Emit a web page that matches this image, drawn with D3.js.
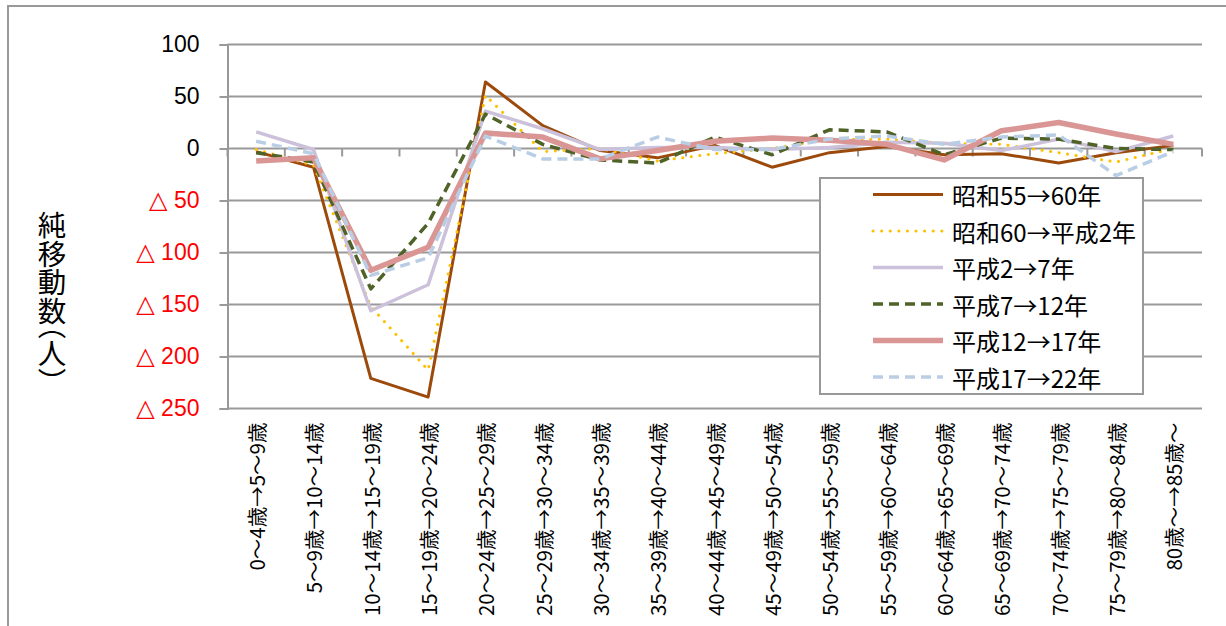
<!DOCTYPE html>
<html><head><meta charset="utf-8">
<script src="https://cdn.jsdelivr.net/npm/d3@7"></script>
<style>
body{margin:0;background:#fff;}
svg{display:block;font-family:"Noto Sans CJK JP","Noto Sans",sans-serif;}
</style></head>
<body>
<svg id="c" width="1226" height="626"></svg>
<script>
const categories = ["0～4歳→5～9歳","5～9歳→10～14歳","10～14歳→15～19歳","15～19歳→20～24歳","20～24歳→25～29歳","25～29歳→30～34歳","30～34歳→35～39歳","35～39歳→40～44歳","40～44歳→45～49歳","45～49歳→50～54歳","50～54歳→55～59歳","55～59歳→60～64歳","60～64歳→65～69歳","65～69歳→70～74歳","70～74歳→75～79歳","75～79歳→80～84歳","80歳～→85歳～"];
const seriesNames = ["昭和55→60年","昭和60→平成2年","平成2→7年","平成7→12年","平成12→17年","平成17→22年"];
const s1 = [-3,-18,-221,-239,64,22,-2,-9,3,-18,-4,2,-6,-5,-14,-4,3];
const s2 = [-1,-16,-152,-213,51,-3,0,-12,-5,0,9,9,5,4,-4,-13,0];
const s3 = [16,-1,-156,-131,36,19,-1,1,1,-1,1,6,5,-2,9,-3,12];
const s4 = [-4,-13,-135,-72,33,4,-11,-14,11,-6,18,16,-6,10,9,0,-1];
const s5 = [-12,-9,-117,-95,15,11,-10,-2,7,10,8,4,-11,17,25,14,4];
const s6 = [7,-5,-122,-105,12,-10,-10,11,-1,-1,9,12,4,11,13,-26,-3];
const yTicks = [100,50,0,-50,-100,-150,-200,-250];
const yTitle = "純移動数（人）";

const styles = [
  {color:"#9C4A0C", width:3, dash:null, cap:"butt"},
  {color:"#FFC000", width:3, dash:"0.1 8.5", cap:"round"},
  {color:"#CCC1DA", width:3.5, dash:null, cap:"butt"},
  {color:"#4F6228", width:3.5, dash:"10 6", cap:"butt"},
  {color:"#D99694", width:5.5, dash:null, cap:"butt"},
  {color:"#B9CDE5", width:3.5, dash:"10 6", cap:"butt"}
];
const allSeries = [s1,s2,s3,s4,s5,s6];

const svg = d3.select("#c");
const L = 227.5, R = 1202, T = 44.5, B = 408.5;
const grid = "#999";

// outer frame
svg.append("path").attr("fill","none").attr("stroke","#999").attr("stroke-width",2).attr("d","M8,626 L8,6 L1226,6");

const x = d3.scaleBand().domain(categories).range([L,R]).padding(0);
const y = d3.scaleLinear().domain([-250,100]).range([B,T]);

// gridlines
svg.append("g").selectAll("line").data(yTicks).join("line")
  .attr("x1",L).attr("x2",R).attr("y1",d=>y(d)).attr("y2",d=>y(d))
  .attr("stroke",grid).attr("stroke-width",2);

// y axis
const yAxis = svg.append("g").attr("transform",`translate(${L},0)`)
  .call(d3.axisLeft(y).tickValues(yTicks).tickSize(8).tickPadding(20).tickFormat(""));
yAxis.select(".domain").attr("stroke",grid).attr("stroke-width",2);
yAxis.selectAll(".tick line").attr("stroke",grid).attr("stroke-width",2);
yAxis.selectAll(".tick text").each(function(d){
  const t = d3.select(this).attr("font-size",23).attr("fill", d<0 ? "#FF0000" : "#000");
  if (d<0){
    t.append("tspan").attr("font-family","DejaVu Sans").attr("font-weight","bold").attr("font-size",24).text("△");
    t.append("tspan").text(" "+(-d));
  } else {
    t.text(String(d));
  }
});

// x axis at zero with boundary ticks
const bounds = d3.range(categories.length+1).map(i=> L + i*x.step());
svg.append("g").selectAll("line").data(bounds).join("line")
  .attr("x1",d=>d).attr("x2",d=>d).attr("y1",y(0)).attr("y2",y(0)+8)
  .attr("stroke",grid).attr("stroke-width",2);

// x labels at bottom
svg.append("g").selectAll("text").data(categories).join("text")
  .attr("transform",d=>`translate(${x(d)+x.bandwidth()/2},${B+14}) rotate(-90)`)
  .attr("text-anchor","end").attr("dominant-baseline","central")
  .attr("font-size",20.5).attr("fill","#000").text(d=>d);

// lines
const line = d3.line().x((d,i)=>x(categories[i])+x.bandwidth()/2).y(d=>y(d));
allSeries.forEach((s,k)=>{
  const st = styles[k];
  svg.append("path").datum(s).attr("d",line).attr("fill","none")
    .attr("stroke",st.color).attr("stroke-width",st.width)
    .attr("stroke-linecap",st.cap).attr("stroke-linejoin","round")
    .attr("stroke-dasharray",st.dash);
});

// legend
const lg = svg.append("g");
lg.append("rect").attr("x",820).attr("y",178).attr("width",323).attr("height",216)
  .attr("fill","#fff").attr("stroke","#999").attr("stroke-width",2);
seriesNames.forEach((n,k)=>{
  const st = styles[k];
  const yy = 194.5 + k*36.5;
  lg.append("line").attr("x1",873).attr("x2",943).attr("y1",yy).attr("y2",yy)
    .attr("stroke",st.color).attr("stroke-width",st.width)
    .attr("stroke-linecap",st.cap).attr("stroke-dasharray",st.dash);
  lg.append("text").attr("x",952).attr("y",yy).attr("dominant-baseline","central")
    .attr("font-size",24).attr("fill","#000").text(n);
});

// y title (vertical)
svg.append("text").attr("x",52).attr("y",211)
  .style("writing-mode","vertical-rl").style("font-feature-settings","'vhal'")
  .attr("font-size",28.5).attr("fill","#000")
  .text(yTitle);
</script>
</body></html>
